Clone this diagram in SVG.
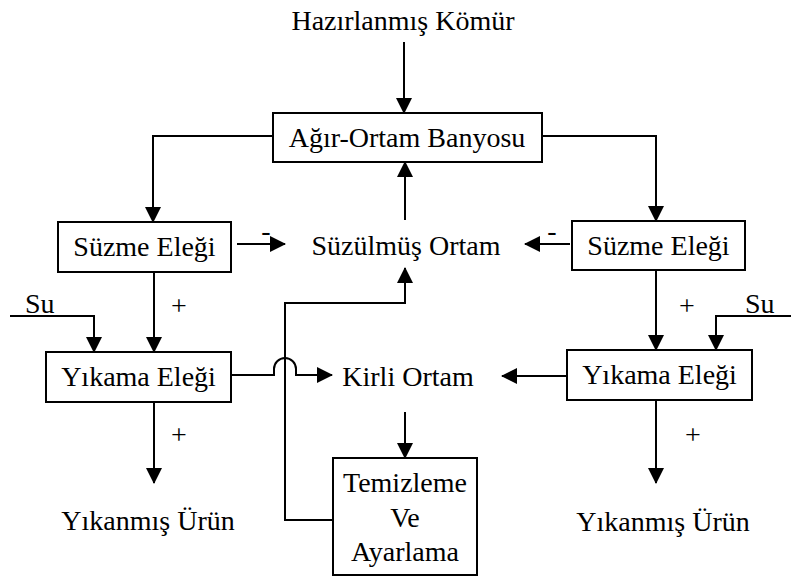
<svg xmlns="http://www.w3.org/2000/svg" width="791" height="579" viewBox="0 0 791 579">
<style>
text{font-family:'Liberation Serif',Tinos,'Times New Roman','DejaVu Serif',serif;font-size:28px;fill:#000}
.c{text-anchor:middle}
.box{fill:#fff;stroke:#000;stroke-width:2}
.ln{fill:none;stroke:#000;stroke-width:2}
</style>
<defs>
<marker id="ah" markerWidth="16" markerHeight="16" viewBox="0 0 16 16" refX="15" refY="8" orient="auto" markerUnits="userSpaceOnUse">
<path d="M0,0 L16,8 L0,16 Z" fill="#000"/>
</marker>
</defs>
<rect width="791" height="579" fill="#fff"/>
<g id="connectors">
<path class="ln" d="M404,42 V113" marker-end="url(#ah)"/>
<path class="ln" d="M273,136 H153 V222" marker-end="url(#ah)"/>
<path class="ln" d="M542,136 H656 V221" marker-end="url(#ah)"/>
<path class="ln" d="M405,220 V162" marker-end="url(#ah)"/>
<path class="ln" d="M237,244 H285" marker-end="url(#ah)"/>
<path class="ln" d="M570,244 H525" marker-end="url(#ah)"/>
<path class="ln" d="M154,272 V352" marker-end="url(#ah)"/>
<path class="ln" d="M10,316 H94 V352" marker-end="url(#ah)"/>
<path class="ln" d="M656,270 V350" marker-end="url(#ah)"/>
<path class="ln" d="M791,316 H716 V350" marker-end="url(#ah)"/>
<path class="ln" d="M231,375 H274 V369 A11,11 0 0 1 296,369 V375 H332" marker-end="url(#ah)"/>
<path class="ln" d="M567,376 H502" marker-end="url(#ah)"/>
<path class="ln" d="M405,412 V458" marker-end="url(#ah)"/>
<path class="ln" d="M333,520 H285 V303 H405 V268" marker-end="url(#ah)"/>
<path class="ln" d="M154,402 V483" marker-end="url(#ah)"/>
<path class="ln" d="M656,400 V483" marker-end="url(#ah)"/>
<text x="266" y="240" class="c">-</text>
<text x="552" y="240" class="c">-</text>
<text x="179" y="315" class="c">+</text>
<text x="687" y="315" class="c">+</text>
<text x="179" y="444" class="c">+</text>
<text x="693" y="444" class="c">+</text>
<text x="25" y="313">Su</text>
<text x="745" y="313">Su</text>
</g>
<g id="hazirlanmis-komur"><text x="403" y="30" class="c">Hazırlanmış Kömür</text></g>
<g id="agir-ortam-banyosu"><rect class="box" x="273" y="113" width="269" height="49"/><text x="407" y="147" class="c">Ağır-Ortam Banyosu</text></g>
<g id="suzme-elegi-sol"><rect class="box" x="58" y="222" width="173" height="50"/><text x="144.5" y="256" class="c">Süzme Eleği</text></g>
<g id="suzme-elegi-sag"><rect class="box" x="572" y="221" width="173" height="49"/><text x="658.5" y="255" class="c">Süzme Eleği</text></g>
<g id="suzulmus-ortam"><text x="406" y="255" class="c">Süzülmüş Ortam</text></g>
<g id="yikama-elegi-sol"><rect class="box" x="46" y="352" width="185" height="50"/><text x="138.5" y="386" class="c">Yıkama Eleği</text></g>
<g id="yikama-elegi-sag"><rect class="box" x="567" y="350" width="185" height="50"/><text x="659.5" y="384" class="c">Yıkama Eleği</text></g>
<g id="kirli-ortam"><text x="408" y="386" class="c">Kirli Ortam</text></g>
<g id="temizleme"><rect class="box" x="333" y="458" width="144" height="117"/><text x="405" y="492" class="c">Temizleme</text><text x="405" y="527" class="c">Ve</text><text x="405" y="561" class="c">Ayarlama</text></g>
<g id="yikanmis-urun-sol"><text x="148" y="530" class="c">Yıkanmış Ürün</text></g>
<g id="yikanmis-urun-sag"><text x="663" y="531" class="c">Yıkanmış Ürün</text></g>
</svg>
